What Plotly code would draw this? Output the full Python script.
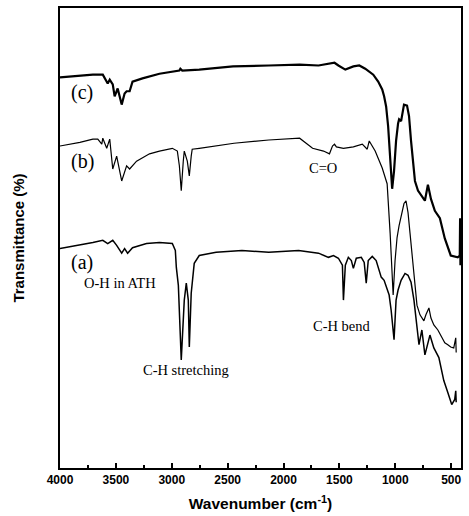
import plotly.graph_objects as go

# ---- data (wavenumber in cm-1, transmittance in arbitrary offset units) ----
wn_c = [4000, 3706, 3617, 3573, 3555, 3528, 3511, 3484, 3448, 3422, 3404, 3377, 3351, 3262, 3110,
        2932, 2923, 2906, 2754, 2452, 2132, 1856, 1687, 1544, 1509, 1447, 1375, 1322, 1269, 1197,
        1153, 1117, 1100, 1082, 1064, 1046, 1028, 1011, 993, 975, 966, 948, 922, 895, 877, 859,
        824, 797, 762, 735, 708, 681, 646, 601, 557, 530, 504, 441, 423, 420, 417]
t_c = [84.9, 85.5, 85.5, 83.6, 84.4, 83.4, 80.8, 82.5, 79.0, 81.4, 81.9, 81.9, 84.0, 84.7, 85.7,
       86.4, 86.8, 86.4, 86.6, 87.3, 87.5, 87.7, 87.5, 88.1, 87.5, 86.6, 87.3, 87.5, 86.8, 85.5,
       84.0, 82.3, 80.8, 78.6, 74.3, 66.7, 60.7, 64.6, 71.1, 74.9, 75.8, 75.4, 79.0, 78.8, 76.5, 71.1,
       62.4, 60.3, 59.2, 58.1, 61.6, 58.5, 55.9, 54.3, 49.9, 47.9, 46.2, 45.8, 46.2, 54.3, 44.1]

wn_b = [4000, 3822, 3706, 3662, 3626, 3617, 3582, 3555, 3528, 3493, 3448, 3422, 3404, 3377, 3315,
        3199, 3110, 2995, 2950, 2932, 2915, 2897, 2888, 2861, 2843, 2826, 2817, 2754, 2443, 2132,
        1856, 1740, 1642, 1589, 1562, 1544, 1527, 1464, 1375, 1295, 1260, 1251, 1233, 1180, 1117,
        1073, 1046, 1028, 1019, 1002, 984, 966, 948, 922, 904, 886, 868, 842, 824, 806, 779, 744,
        726, 699, 681, 655, 619, 584, 557, 530, 504, 477, 459, 455]
t_b = [70.0, 70.8, 71.5, 71.5, 70.4, 71.7, 69.5, 71.5, 65.0, 67.8, 62.4, 64.6, 65.7, 65.0, 66.7,
       68.3, 68.9, 69.5, 68.9, 65.7, 60.3, 66.7, 68.9, 66.7, 63.5, 67.8, 69.3, 69.5, 70.6, 71.3,
       71.7, 69.5, 68.9, 68.3, 70.0, 70.4, 69.8, 69.5, 69.8, 70.4, 69.5, 69.3, 71.1, 68.9, 65.2,
       61.8, 51.0, 43.0, 37.6, 45.1, 50.1, 52.7, 54.9, 57.5, 58.1, 55.5, 51.0, 45.1, 40.2, 35.4, 33.3, 32.0,
       33.3, 34.8, 32.6, 31.1, 30.0, 28.3, 27.2, 26.8, 26.3, 26.1, 28.3, 25.1]

wn_a = [4000, 3822, 3706, 3617, 3573, 3528, 3493, 3448, 3422, 3395, 3351, 3226, 3110, 2995, 2968,
        2959, 2941, 2915, 2888, 2870, 2852, 2843, 2826, 2799, 2754, 2603, 2372, 2132, 1865, 1687,
        1598, 1553, 1509, 1473, 1464, 1447, 1420, 1393, 1375, 1349, 1304, 1278, 1260, 1242, 1206,
        1171, 1126, 1100, 1082, 1055, 1037, 1011, 993, 975, 948, 913, 886, 859, 833, 806, 788, 762,
        735, 690, 655, 610, 566, 530, 495, 468, 459, 455]
t_a = [47.7, 48.4, 49.0, 49.5, 48.8, 49.5, 48.4, 46.7, 47.7, 46.7, 47.9, 48.8, 49.0, 48.8, 47.3,
       43.6, 39.7, 23.5, 36.5, 40.2, 36.5, 26.3, 38.0, 44.5, 46.2, 46.9, 47.3, 46.9, 47.3, 46.7,
       45.8, 46.2, 45.6, 44.1, 36.5, 44.1, 45.8, 45.1, 43.4, 45.6, 45.8, 44.7, 40.2, 45.1, 46.0,
       45.1, 41.5, 40.8, 39.3, 37.6, 34.3, 27.9, 36.5, 38.7, 40.8, 42.3, 41.9, 40.4, 36.5, 30.5, 26.8, 30.0,
       24.6, 28.9, 26.1, 24.0, 19.0, 16.4, 13.8, 14.9, 16.8, 14.3]

curve_labels = ["(c)", "(b)", "(a)"]
label_wn = [3804, 3795, 3804]
label_t = [81.6, 66.7, 44.7]

band_labels = ["O-H in ATH", "C-H stretching", "C-H bend", "C=O"]
band_wn = [3466, 2870, 1473, 1651]
band_t = [40.2, 21.2, 30.9, 65.2]

x_ticks = [4000, 3500, 3000, 2500, 2000, 1500, 1000, 500]

serif = "Liberation Serif, Times New Roman, serif"
sans = "Liberation Sans, Arial, sans-serif"

fig = go.Figure()
fig.add_trace(go.Scatter(x=wn_c, y=t_c, mode="lines", line=dict(color="black", width=2.2), showlegend=False))
fig.add_trace(go.Scatter(x=wn_b, y=t_b, mode="lines", line=dict(color="black", width=1.2), showlegend=False))
fig.add_trace(go.Scatter(x=wn_a, y=t_a, mode="lines", line=dict(color="black", width=1.5), showlegend=False))

for txt, x, y in zip(curve_labels, label_wn, label_t):
    fig.add_annotation(x=x, y=y, text=txt, showarrow=False,
                       font=dict(family=serif, size=20, color="black"))
for txt, x, y in zip(band_labels, band_wn, band_t):
    fig.add_annotation(x=x, y=y, text=txt, showarrow=False,
                       font=dict(family=serif, size=14.5, color="black"))

fig.update_layout(
    width=469, height=516,
    margin=dict(l=60, r=6, t=6, b=47),
    plot_bgcolor="white", paper_bgcolor="white",
    xaxis=dict(
        range=[4000, 412], tickvals=x_ticks, ticktext=[str(v) for v in x_ticks],
        ticks="inside", ticklen=5, tickwidth=1.5, tickcolor="black",
        minor=dict(ticks="inside", dtick=250, ticklen=3, tickcolor="black"),
        showline=True, linewidth=2, linecolor="black", mirror=True,
        showgrid=False, zeroline=False,
        tickfont=dict(family=sans, size=12, color="black", weight="bold"),
        title=dict(text="Wavenumber (cm<sup>-1</sup>)", standoff=12,
                   font=dict(family=sans, size=15.5, color="black", weight="bold")),
    ),
    yaxis=dict(
        range=[0, 100], showticklabels=False, ticks="",
        showline=True, linewidth=2, linecolor="black", mirror=True,
        showgrid=False, zeroline=False,
        title=dict(text="Transmittance (%)", standoff=30,
                   font=dict(family=sans, size=15, color="black", weight="bold")),
    ),
)

fig.write_html("out.html")
